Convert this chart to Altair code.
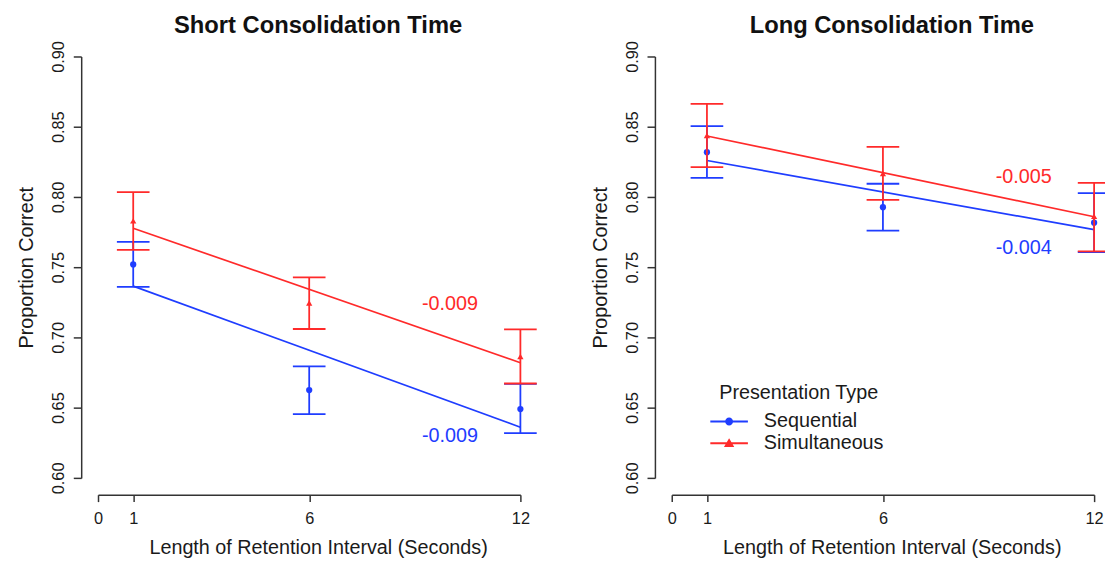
import altair as alt
import pandas as pd

FONT = "Liberation Sans"

# ---------------- data ----------------
seconds = [1, 6, 12]
series = ["Sequential", "Simultaneous"]
series_colors = ["#1f3dff", "#ff2a2a"]
series_shapes = ["circle", "triangle-up"]

# Short consolidation time
short_seq_mean = [0.752, 0.6625, 0.649]
short_seq_lo = [0.736, 0.6454, 0.6318]
short_seq_hi = [0.768, 0.6794, 0.667]
short_sim_mean = [0.783, 0.7245, 0.6864]
short_sim_lo = [0.7624, 0.706, 0.6672]
short_sim_hi = [0.8034, 0.7428, 0.7057]

# Long consolidation time
long_seq_mean = [0.8319, 0.7927, 0.7817]
long_seq_lo = [0.8136, 0.776, 0.7608]
long_seq_hi = [0.8504, 0.8094, 0.8027]
long_sim_mean = [0.8438, 0.8166, 0.7862]
long_sim_lo = [0.8213, 0.798, 0.7613]
long_sim_hi = [0.8663, 0.8357, 0.8101]

panel_titles = ["Short Consolidation Time", "Long Consolidation Time"]
slope_text_short = ["-0.009", "-0.009"]
slope_text_long = ["-0.004", "-0.005"]
label_seconds = [10, 10]
label_y_short = [0.6301, 0.7239]
label_y_long = [0.7636, 0.8141]

y_ticks = [0.60, 0.65, 0.70, 0.75, 0.80, 0.85, 0.90]
x_ticks = [0, 1, 6, 12]

legend_title = "Presentation Type"
# legend glyphs: a line with the marker on it (unit coords, scaled by Vega)
legend_paths = [
    "M-1.9,-0.1H1.9V0.1H-1.9Z M0.4,0A0.4,0.4,0,1,1,-0.4,0A0.4,0.4,0,1,1,0.4,0Z",
    "M-1.9,-0.1H1.9V0.1H-1.9Z M0,-0.5L0.52,0.38L-0.52,0.38Z",
]

x_title = "Length of Retention Interval (Seconds)"
y_title = "Proportion Correct"

# ---------------- helpers ----------------
AX = "#333333"
TXT = "#1a1a1a"

X_SCALE = alt.Scale(domain=[0, 12], nice=False, zero=False)
Y_SCALE = alt.Scale(domain=[0.6, 0.9], nice=False, zero=False)

X_AXIS = alt.Axis(
    values=x_ticks, title=x_title, offset=17, grid=False, tickSize=7,
    labelPadding=9, labelFontSize=16.5, labelFont=FONT, labelColor=TXT,
    labelFlush=False, labelOverlap=False,
    titleFontSize=20, titleFont=FONT, titleFontWeight="normal", titleColor=TXT,
    titlePadding=11, titleX=222.5,
    domainColor=AX, tickColor=AX, domainWidth=1.5, tickWidth=1.5,
)
Y_AXIS = alt.Axis(
    values=y_ticks, format=".2f", title=y_title, offset=17, grid=False, tickSize=8,
    labelAngle=270, labelAlign="center", labelBaseline="bottom", labelPadding=7,
    labelFontSize=16.5, labelFont=FONT, labelColor=TXT, labelFlush=False,
    labelOverlap=False,
    titleFontSize=20, titleFont=FONT, titleFontWeight="normal", titleColor=TXT,
    titlePadding=14,
    domainColor=AX, tickColor=AX, domainWidth=1.5, tickWidth=1.5,
)


def xenc(field):
    return alt.X(f"{field}:Q", scale=X_SCALE, axis=X_AXIS)


def yenc(field):
    return alt.Y(f"{field}:Q", scale=Y_SCALE, axis=Y_AXIS)


def series_df(means, los, his, name):
    return pd.DataFrame({"type": name, "seconds": seconds,
                         "mean": means, "lo": los, "hi": his})


def panel(title, groups, slope_texts, label_ys, with_legend):
    layers = []
    for i, (name, col, shp) in enumerate(zip(series, series_colors, series_shapes)):
        d = series_df(*groups[i], name)
        base = alt.Chart(d)
        fit = base.transform_regression(
            "seconds", "mean", extent=[1, 12]
        ).mark_line(color=col, strokeWidth=1.7).encode(x=xenc("seconds"), y=yenc("mean"))
        bar = base.mark_rule(color=col, strokeWidth=1.8).encode(
            x=xenc("seconds"), y=yenc("lo"), y2="hi")
        caps = base.transform_fold(["lo", "hi"], as_=["bound", "val"]).mark_tick(
            orient="horizontal", color=col, size=33, thickness=1.8, opacity=1
        ).encode(x=xenc("seconds"), y=yenc("val"))
        pts = base.mark_point(filled=True, shape=shp, size=40, color=col,
                              opacity=1).encode(x=xenc("seconds"), y=yenc("mean"))
        lab = pd.DataFrame({"lx": [label_seconds[i]], "ly": [label_ys[i]],
                            "label": [slope_texts[i]]})
        txt = alt.Chart(lab).mark_text(
            font=FONT, fontSize=20, color=col, align="center", baseline="middle"
        ).encode(x=xenc("lx"), y=yenc("ly"), text="label:N")
        layers += [fit, bar, caps, pts, txt]

    if with_legend:
        d_all = pd.concat([series_df(*groups[i], n) for i, n in enumerate(series)])
        leg = alt.Legend(
            title=legend_title, orient="none", legendX=48, legendY=330,
            titleFont=FONT, titleFontSize=20, titleFontWeight="normal", titleColor=TXT,
            labelFont=FONT, labelFontSize=20, labelColor=TXT,
            symbolSize=400, labelOffset=25, rowPadding=2, titlePadding=9,
            symbolOpacity=1, symbolStrokeWidth=0, padding=0,
        )
        legend_layer = alt.Chart(d_all).transform_filter("false").mark_point(
            filled=True, opacity=1, size=400
        ).encode(
            x=xenc("seconds"), y=yenc("mean"),
            fill=alt.Fill("type:N", scale=alt.Scale(domain=series, range=series_colors),
                          legend=leg),
            shape=alt.Shape("type:N", scale=alt.Scale(domain=series, range=legend_paths),
                            legend=leg),
        )
        layers.append(legend_layer)

    return alt.layer(*layers).properties(
        width=427, height=426,
        title=alt.TitleParams(title, font=FONT, fontSize=24, fontWeight="bold",
                              color="#111111", anchor="middle", frame="group",
                              offset=3, dx=9),
    )


left = panel(panel_titles[0],
             [(short_seq_mean, short_seq_lo, short_seq_hi),
              (short_sim_mean, short_sim_lo, short_sim_hi)],
             slope_text_short, label_y_short, False)
right = panel(panel_titles[1],
              [(long_seq_mean, long_seq_lo, long_seq_hi),
               (long_sim_mean, long_sim_lo, long_sim_hi)],
              slope_text_long, label_y_long, True)

chart = alt.hconcat(left, right, spacing=54).resolve_legend(
    fill="independent", shape="independent"
).resolve_scale(fill="independent", shape="independent").properties(
    padding={"left": 9, "top": 2, "right": -6, "bottom": 0}
).configure(background="white").configure_view(stroke="transparent", strokeWidth=0)

chart.save("out.html", embed_options={"renderer": "svg", "actions": False})
